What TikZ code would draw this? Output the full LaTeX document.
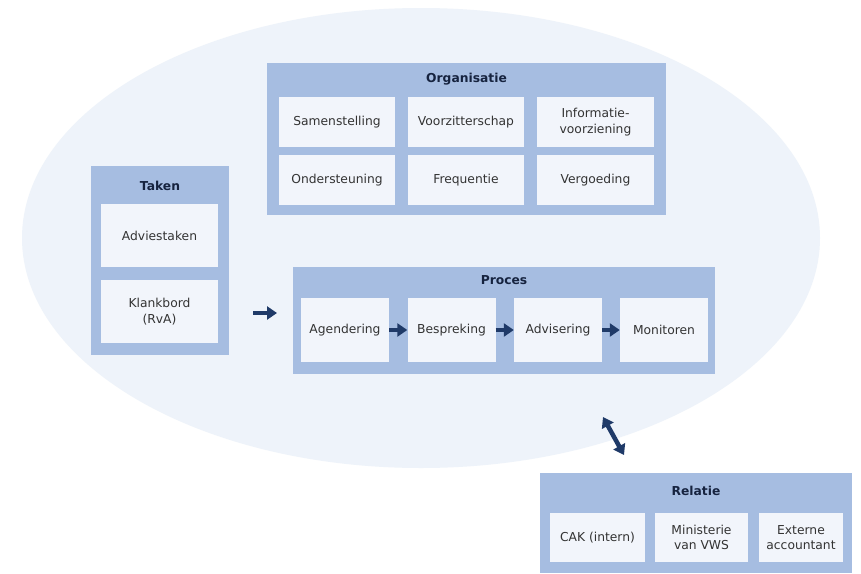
\documentclass[tikz,border=0pt]{standalone}
\usepackage{fontspec}
\setmainfont{DejaVu Sans}
\usetikzlibrary{arrows.meta}
\definecolor{vlakblauw}{HTML}{EEF3FA}
\definecolor{groepblauw}{HTML}{A6BDE1}
\definecolor{vakwit}{HTML}{F2F5FB}
\definecolor{pijlblauw}{HTML}{1F3A68}
\definecolor{tekstgrijs}{HTML}{333333}
\definecolor{titelblauw}{HTML}{16233F}
\begin{document}
\begin{tikzpicture}[x=1pt,y=-1pt,
    groep/.style={fill=groepblauw, anchor=north west, inner sep=0pt},
    titel/.style={text=titelblauw, font=\fontsize{12.3}{14}\selectfont\bfseries},
    vak/.style={fill=vakwit, text=tekstgrijs, align=center, inner sep=0pt,
      font=\fontsize{12.3}{15.5}\selectfont},
    pijl/.style={draw=pijlblauw, line width=4.5pt,
      -{Triangle[length=10pt,width=13pt]}},
    dubbelpijl/.style={draw=pijlblauw, line width=4.5pt,
      {Triangle[length=10pt,width=13pt]}-{Triangle[length=10pt,width=13pt]}}]
  \useasboundingbox (0,0) rectangle (861,573);
  \fill[white] (0,0) rectangle (861,573);
  \fill[vlakblauw] (421,238) ellipse [x radius=399, y radius=230];

  % Organisatie
  \node[groep, minimum width=399, minimum height=152] (organisatie) at (267,63) {};
  \node[titel] (orgtitel) at (466.5,79) {Organisatie};
  \node[vak, minimum width=116, minimum height=50] (samenstelling) at (337,122) {Samenstelling};
  \node[vak, minimum width=116, minimum height=50] (voorzitterschap) at (466,122) {Voorzitterschap};
  \node[vak, minimum width=117, minimum height=50] (informatie) at (595.5,122) {Informatie-\\voorziening};
  \node[vak, minimum width=116, minimum height=50] (ondersteuning) at (337,180) {Ondersteuning};
  \node[vak, minimum width=116, minimum height=50] (frequentie) at (466,180) {Frequentie};
  \node[vak, minimum width=117, minimum height=50] (vergoeding) at (595.5,180) {Vergoeding};

  % Taken
  \node[groep, minimum width=138, minimum height=189] (taken) at (91,166) {};
  \node[titel] (takentitel) at (160,186) {Taken};
  \node[vak, minimum width=117, minimum height=63] (adviestaken) at (159.5,235.5) {Adviestaken};
  \node[vak, minimum width=117, minimum height=63] (klankbord) at (159.5,311.5) {Klankbord\\(RvA)};

  % Proces
  \node[groep, minimum width=422, minimum height=107] (proces) at (293,267) {};
  \node[titel] (procestitel) at (504,280) {Proces};
  \node[vak, minimum width=88, minimum height=64] (agendering) at (345,330) {Agendering};
  \node[vak, minimum width=88, minimum height=64] (bespreking) at (451.5,330) {Bespreking};
  \node[vak, minimum width=88, minimum height=64] (advisering) at (558,330) {Advisering};
  \node[vak, minimum width=88, minimum height=64] (monitoren) at (664,330) {Monitoren};

  % Relatie
  \node[groep, minimum width=312, minimum height=100] (relatie) at (540,473) {};
  \node[titel] (relatietitel) at (696,491) {Relatie};
  \node[vak, minimum width=95, minimum height=49] (cak) at (597.5,537.5) {CAK (intern)};
  \node[vak, minimum width=93, minimum height=49] (ministerie) at (701.5,537.5) {Ministerie\\van VWS};
  \node[vak, minimum width=84, minimum height=49] (accountant) at (801,537.5) {Externe\\accountant};

  % pijlen
  \coordinate (takenuit) at (253,313);
  \coordinate (procesin) at (277,313);
  \draw[pijl] (takenuit) -- (procesin);
  \draw[pijl] (agendering.east) -- (bespreking.west);
  \draw[pijl] (bespreking.east) -- (advisering.west);
  \draw[pijl] (advisering.east) -- (monitoren.west);
  \coordinate (vlakrand) at (603,417);
  \coordinate (relatierand) at (624,455);
  \draw[dubbelpijl] (vlakrand) -- (relatierand);
\end{tikzpicture}
\end{document}
